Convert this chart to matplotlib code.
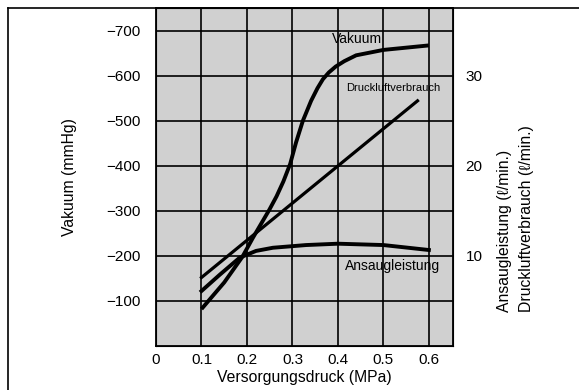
import matplotlib.pyplot as plt
from matplotlib.lines import Line2D

plt.rcParams['font.family'] = ['Liberation Sans', 'DejaVu Sans']

# Versorgungsdruck (MPa) vs. Vakuum (mmHg, negative)
vak_x = [0.1, 0.15, 0.19, 0.213, 0.249, 0.265, 0.28, 0.295, 0.308, 0.323,
         0.341, 0.355, 0.367, 0.38, 0.395, 0.414, 0.44, 0.5, 0.6]
vak_y = [-82, -141, -198, -240, -302, -332, -365, -404, -452, -500,
         -544, -572, -592, -607, -620, -632, -645, -657, -667]

# Druckluftverbrauch (l/min), right axis
druck_x = [0.1, 0.575]
druck_y = [7.6, 27.2]

# Ansaugleistung (l/min), right axis
ans_x = [0.1, 0.14, 0.184, 0.22, 0.257, 0.33, 0.4, 0.5, 0.6]
ans_y = [6.1, 7.9, 9.8, 10.55, 10.9, 11.2, 11.35, 11.2, 10.65]

xticks = [0, 0.1, 0.2, 0.3, 0.4, 0.5, 0.6]
xlabels = ['0', '0.1', '0.2', '0.3', '0.4', '0.5', '0.6']
yticks = [-100, -200, -300, -400, -500, -600, -700]
ylabels = ['\u2212100', '\u2212200', '\u2212300', '\u2212400', '\u2212500', '\u2212600', '\u2212700']
rticks = [10, 20, 30]

fig = plt.figure(figsize=(5.79, 3.9), dpi=100)
ax = fig.add_axes([156/579, 44/390, 297/579, 338/390])
ax.set_facecolor('#d0d0d0')

ax.plot(vak_x, vak_y, color='black', lw=2.8, solid_joinstyle='round',
        solid_capstyle='butt', zorder=3)
ax.set_xlim(0, 0.653)
ax.set_ylim(0, -750)
ax.set_xticks(xticks)
ax.set_xticklabels(xlabels)
ax.set_yticks(yticks)
ax.set_yticklabels(ylabels)
ax.grid(True, color='black', lw=1.2)
ax.tick_params(axis='both', length=0, labelsize=11)
ax.tick_params(axis='y', pad=11)
ax.tick_params(axis='x', pad=5)
for s in ax.spines.values():
    s.set_linewidth(1.3)

ax2 = ax.twinx()
ax2.plot(druck_x, druck_y, color='black', lw=2.3, zorder=3)
ax2.plot(ans_x, ans_y, color='black', lw=2.8, solid_joinstyle='round', zorder=3)
ax2.set_ylim(0, 37.5)
ax2.set_yticks(rticks)
ax2.tick_params(axis='y', length=0, labelsize=11, pad=9)

ax.set_xlabel('Versorgungsdruck (MPa)', fontsize=11.3, labelpad=2)
ax.set_ylabel('Vakuum (mmHg)', fontsize=11.3, labelpad=21)

ax.text(0.443, -682, 'Vakuum', fontsize=10, ha='center', va='center')
ax.text(0.522, -573, 'Druckluftverbrauch', fontsize=8, ha='center', va='center')
ax.text(0.52, -178, 'Ansaugleistung', fontsize=10, ha='center', va='center')

fig.text(504/579, 78/390, 'Ansaugleistung (\u2113/min.)', rotation=90,
         ha='center', va='bottom', fontsize=11.3)
fig.text(527/579, 78/390, 'Druckluftverbrauch (\u2113/min.)', rotation=90,
         ha='center', va='bottom', fontsize=11.3)

# outer frame (left and top only)
fig.add_artist(Line2D([8/579, 8/579], [0, 382/390], color='black', lw=1.2))
fig.add_artist(Line2D([8/579, 1], [382/390, 382/390], color='black', lw=1.2))

fig.savefig('out.png', dpi=100)
